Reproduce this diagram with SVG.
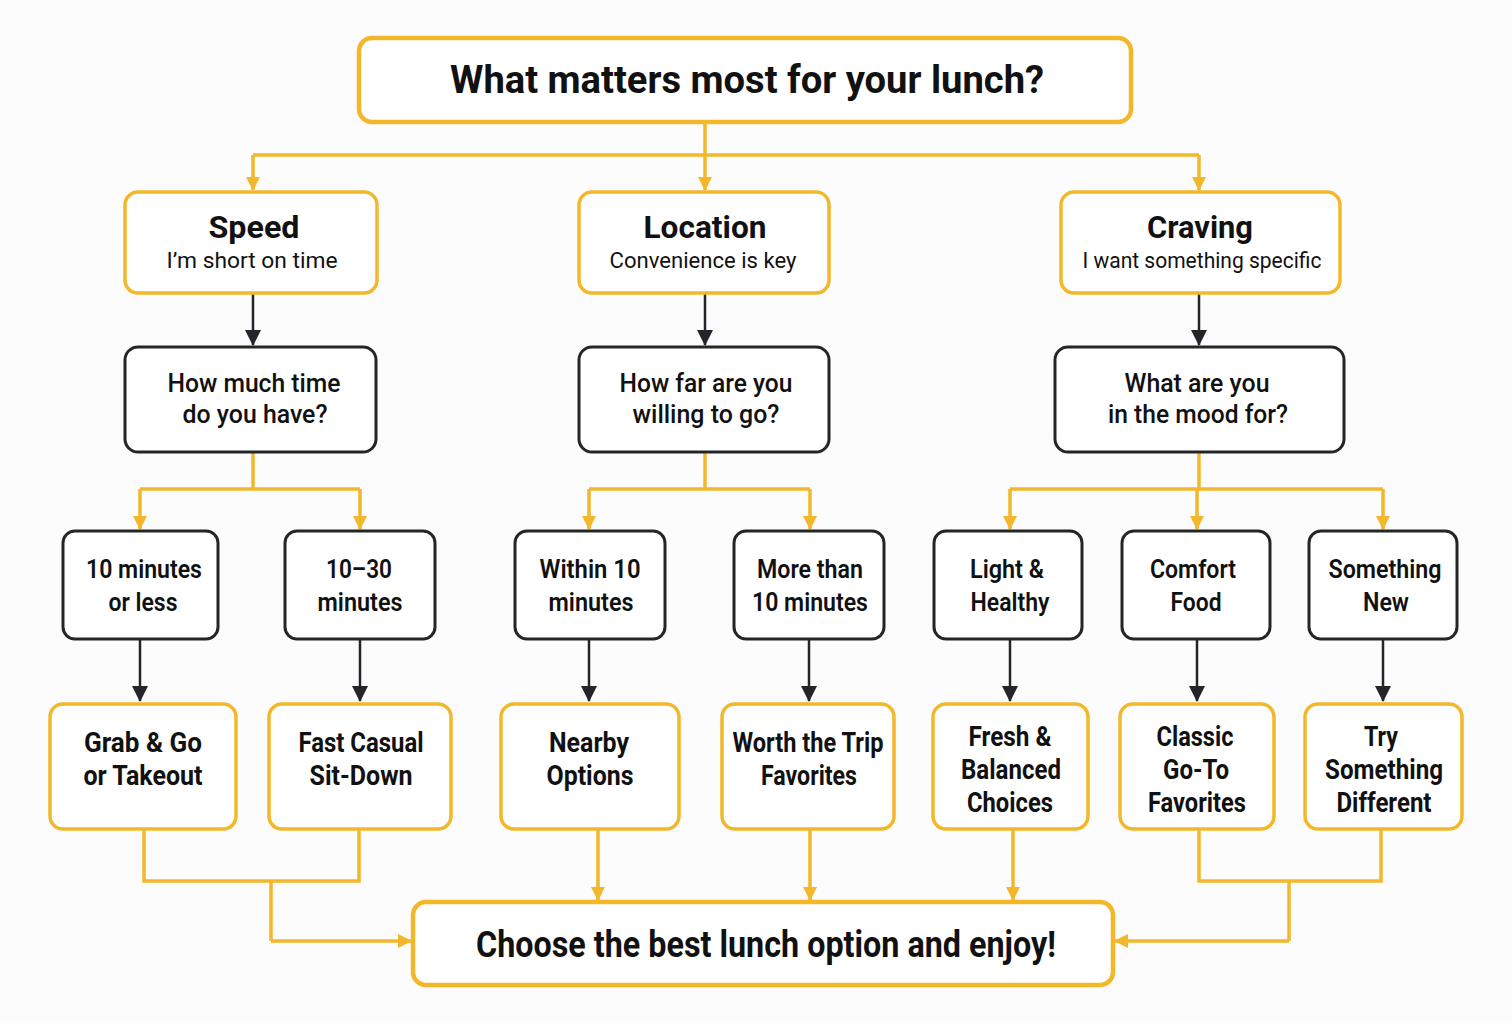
<svg xmlns="http://www.w3.org/2000/svg" width="1512" height="1023" viewBox="0 0 1512 1023">
<defs>
<style>
.y{fill:#ffffff;stroke:#F3B72B;stroke-width:3.5}
.yb{fill:#ffffff;stroke:#F3B72B;stroke-width:4.5}
.d{fill:#ffffff;stroke:#232528;stroke-width:3}
.cy{fill:none;stroke:#F3B72B;stroke-width:3.5}
.cd{fill:none;stroke:#232528;stroke-width:2.5}
text{font-family:Roboto,"Liberation Sans",sans-serif;fill:#111111;text-anchor:middle}
.t{font-size:39px;font-weight:700}
.h{font-size:31px;font-weight:700}
.s{font-size:22px;font-weight:400}
.q{font-size:25px;font-weight:500}
.o{font-size:26px;font-weight:600}
.r{font-size:27px;font-weight:700}
</style>
<marker id="ay" markerUnits="userSpaceOnUse" markerWidth="14" markerHeight="14" refX="13" refY="7" orient="auto">
<path d="M0,0 L14,7 L0,14 z" fill="#F3B72B"/>
</marker>
<marker id="ad" markerUnits="userSpaceOnUse" markerWidth="16" markerHeight="16" refX="15" refY="8" orient="auto">
<path d="M0,0 L16,8 L0,16 z" fill="#232528"/>
</marker>
</defs>
<rect x="0" y="0" width="1512" height="1023" fill="#FCFCFC"/>

<g id="connectors">
<path class="cy" d="M705,122 V155"/>
<path class="cy" d="M253,155 H1199"/>
<path class="cy" d="M253,155 V190" marker-end="url(#ay)"/>
<path class="cy" d="M705,155 V190" marker-end="url(#ay)"/>
<path class="cy" d="M1199,155 V190" marker-end="url(#ay)"/>

<path class="cd" d="M253,293 V345" marker-end="url(#ad)"/>
<path class="cd" d="M705,293 V345" marker-end="url(#ad)"/>
<path class="cd" d="M1199,293 V345" marker-end="url(#ad)"/>

<path class="cy" d="M253,452 V489 M140,489 H360"/>
<path class="cy" d="M140,489 V529" marker-end="url(#ay)"/>
<path class="cy" d="M360,489 V529" marker-end="url(#ay)"/>
<path class="cy" d="M705,452 V489 M589,489 H810"/>
<path class="cy" d="M589,489 V529" marker-end="url(#ay)"/>
<path class="cy" d="M810,489 V529" marker-end="url(#ay)"/>
<path class="cy" d="M1199,452 V489 M1010,489 H1383"/>
<path class="cy" d="M1010,489 V529" marker-end="url(#ay)"/>
<path class="cy" d="M1197,489 V529" marker-end="url(#ay)"/>
<path class="cy" d="M1383,489 V529" marker-end="url(#ay)"/>

<path class="cd" d="M140,639 V701" marker-end="url(#ad)"/>
<path class="cd" d="M360,639 V701" marker-end="url(#ad)"/>
<path class="cd" d="M589,639 V701" marker-end="url(#ad)"/>
<path class="cd" d="M809,639 V701" marker-end="url(#ad)"/>
<path class="cd" d="M1010,639 V701" marker-end="url(#ad)"/>
<path class="cd" d="M1197,639 V701" marker-end="url(#ad)"/>
<path class="cd" d="M1383,639 V701" marker-end="url(#ad)"/>

<path class="cy" d="M144,829 V881 H359 V829 M271,881 V941"/>
<path class="cy" d="M271,941 H411" marker-end="url(#ay)"/>
<path class="cy" d="M598,829 V900" marker-end="url(#ay)"/>
<path class="cy" d="M810,829 V900" marker-end="url(#ay)"/>
<path class="cy" d="M1013,829 V900" marker-end="url(#ay)"/>
<path class="cy" d="M1199,829 V881 H1381 V829 M1289,881 V941"/>
<path class="cy" d="M1289,941 H1115" marker-end="url(#ay)"/>
</g>

<g id="n-top"><rect class="yb" x="359" y="38" width="772" height="84" rx="13"/>
<text class="t" x="747" y="93" textLength="594" lengthAdjust="spacingAndGlyphs">What matters most for your lunch?</text></g>

<g id="n-speed"><rect class="y" x="125" y="192" width="252" height="101" rx="13"/>
<text class="h" x="254" y="238" textLength="91" lengthAdjust="spacingAndGlyphs">Speed</text>
<text class="s" x="252" y="268" textLength="171" lengthAdjust="spacingAndGlyphs">I’m short on time</text></g>
<g id="n-location"><rect class="y" x="579" y="192" width="250" height="101" rx="13"/>
<text class="h" x="705" y="238" textLength="123" lengthAdjust="spacingAndGlyphs">Location</text>
<text class="s" x="703" y="268" textLength="187" lengthAdjust="spacingAndGlyphs">Convenience is key</text></g>
<g id="n-craving"><rect class="y" x="1061" y="192" width="279" height="101" rx="13"/>
<text class="h" x="1200" y="238" textLength="106" lengthAdjust="spacingAndGlyphs">Craving</text>
<text class="s" x="1202" y="268" textLength="239" lengthAdjust="spacingAndGlyphs">I want something specific</text></g>

<g id="n-q1"><rect class="d" x="125" y="347" width="251" height="105" rx="13"/>
<text class="q" x="254" y="392" textLength="173" lengthAdjust="spacingAndGlyphs">How much time</text>
<text class="q" x="255" y="423" textLength="145" lengthAdjust="spacingAndGlyphs">do you have?</text></g>
<g id="n-q2"><rect class="d" x="579" y="347" width="250" height="105" rx="13"/>
<text class="q" x="706" y="392" textLength="173" lengthAdjust="spacingAndGlyphs">How far are you</text>
<text class="q" x="706" y="423" textLength="147" lengthAdjust="spacingAndGlyphs">willing to go?</text></g>
<g id="n-q3"><rect class="d" x="1055" y="347" width="289" height="105" rx="13"/>
<text class="q" x="1197" y="392" textLength="145" lengthAdjust="spacingAndGlyphs">What are you</text>
<text class="q" x="1198" y="423" textLength="180" lengthAdjust="spacingAndGlyphs">in the mood for?</text></g>

<g id="n-10less"><rect class="d" x="63" y="531" width="155" height="108" rx="12"/>
<text class="o" x="144" y="578" textLength="116" lengthAdjust="spacingAndGlyphs">10 minutes</text>
<text class="o" x="143" y="611" textLength="69" lengthAdjust="spacingAndGlyphs">or less</text></g>
<g id="n-1030"><rect class="d" x="285" y="531" width="150" height="108" rx="12"/>
<text class="o" x="359" y="578" textLength="66" lengthAdjust="spacingAndGlyphs">10–30</text>
<text class="o" x="360" y="611" textLength="85" lengthAdjust="spacingAndGlyphs">minutes</text></g>
<g id="n-within"><rect class="d" x="515" y="531" width="150" height="108" rx="12"/>
<text class="o" x="590" y="578" textLength="101" lengthAdjust="spacingAndGlyphs">Within 10</text>
<text class="o" x="591" y="611" textLength="85" lengthAdjust="spacingAndGlyphs">minutes</text></g>
<g id="n-more"><rect class="d" x="734" y="531" width="150" height="108" rx="12"/>
<text class="o" x="810" y="578" textLength="106" lengthAdjust="spacingAndGlyphs">More than</text>
<text class="o" x="810" y="611" textLength="116" lengthAdjust="spacingAndGlyphs">10 minutes</text></g>
<g id="n-light"><rect class="d" x="934" y="531" width="148" height="108" rx="12"/>
<text class="o" x="1007" y="578" textLength="74" lengthAdjust="spacingAndGlyphs">Light &amp;</text>
<text class="o" x="1010" y="611" textLength="79" lengthAdjust="spacingAndGlyphs">Healthy</text></g>
<g id="n-comfort"><rect class="d" x="1122" y="531" width="148" height="108" rx="12"/>
<text class="o" x="1193" y="578" textLength="86" lengthAdjust="spacingAndGlyphs">Comfort</text>
<text class="o" x="1196" y="611" textLength="51" lengthAdjust="spacingAndGlyphs">Food</text></g>
<g id="n-new"><rect class="d" x="1309" y="531" width="148" height="108" rx="12"/>
<text class="o" x="1385" y="578" textLength="113" lengthAdjust="spacingAndGlyphs">Something</text>
<text class="o" x="1386" y="611" textLength="46" lengthAdjust="spacingAndGlyphs">New</text></g>

<g id="n-grab"><rect class="y" x="50" y="704" width="186" height="125" rx="13"/>
<text class="r" x="143" y="752" textLength="118" lengthAdjust="spacingAndGlyphs">Grab &amp; Go</text>
<text class="r" x="143" y="785" textLength="119" lengthAdjust="spacingAndGlyphs">or Takeout</text></g>
<g id="n-fast"><rect class="y" x="269" y="704" width="182" height="125" rx="13"/>
<text class="r" x="361" y="752" textLength="125" lengthAdjust="spacingAndGlyphs">Fast Casual</text>
<text class="r" x="361" y="785" textLength="103" lengthAdjust="spacingAndGlyphs">Sit-Down</text></g>
<g id="n-nearby"><rect class="y" x="501" y="704" width="178" height="125" rx="13"/>
<text class="r" x="589" y="752" textLength="80" lengthAdjust="spacingAndGlyphs">Nearby</text>
<text class="r" x="590" y="785" textLength="87" lengthAdjust="spacingAndGlyphs">Options</text></g>
<g id="n-worth"><rect class="y" x="722" y="704" width="172" height="125" rx="13"/>
<text class="r" x="808" y="752" textLength="151" lengthAdjust="spacingAndGlyphs">Worth the Trip</text>
<text class="r" x="809" y="785" textLength="96" lengthAdjust="spacingAndGlyphs">Favorites</text></g>
<g id="n-fresh"><rect class="y" x="933" y="704" width="155" height="125" rx="13"/>
<text class="r" x="1010" y="746" textLength="83" lengthAdjust="spacingAndGlyphs">Fresh &amp;</text>
<text class="r" x="1011" y="779" textLength="100" lengthAdjust="spacingAndGlyphs">Balanced</text>
<text class="r" x="1010" y="812" textLength="86" lengthAdjust="spacingAndGlyphs">Choices</text></g>
<g id="n-classic"><rect class="y" x="1120" y="704" width="154" height="125" rx="13"/>
<text class="r" x="1195" y="746" textLength="77" lengthAdjust="spacingAndGlyphs">Classic</text>
<text class="r" x="1196" y="779" textLength="66" lengthAdjust="spacingAndGlyphs">Go-To</text>
<text class="r" x="1197" y="812" textLength="98" lengthAdjust="spacingAndGlyphs">Favorites</text></g>
<g id="n-try"><rect class="y" x="1305" y="704" width="157" height="125" rx="13"/>
<text class="r" x="1381" y="746" textLength="34" lengthAdjust="spacingAndGlyphs">Try</text>
<text class="r" x="1384" y="779" textLength="118" lengthAdjust="spacingAndGlyphs">Something</text>
<text class="r" x="1384" y="812" textLength="95" lengthAdjust="spacingAndGlyphs">Different</text></g>

<g id="n-end"><rect class="yb" x="413" y="902" width="700" height="83" rx="13"/>
<text class="t" x="766" y="957" style="font-size:37px" textLength="580" lengthAdjust="spacingAndGlyphs">Choose the best lunch option and enjoy!</text></g>
</svg>
